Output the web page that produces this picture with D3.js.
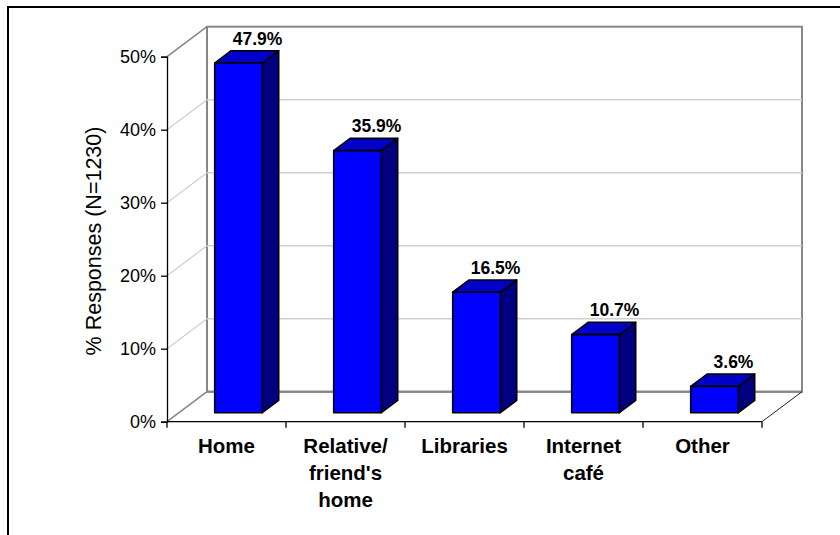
<!DOCTYPE html>
<html><head><meta charset="utf-8">
<script src="https://cdn.jsdelivr.net/npm/d3@7"></script>
<style>body{margin:0;background:#fff;}svg{display:block;}</style>
</head><body>
<svg id="c" width="840" height="535"></svg>
<script>
const categories = ["Home", "Relative/\nfriend's\nhome", "Libraries", "Internet\ncafé", "Other"];
const values = [47.9, 35.9, 16.5, 10.7, 3.6];
const valueLabels = ["47.9%", "35.9%", "16.5%", "10.7%", "3.6%"];
const yTicks = [0, 10, 20, 30, 40, 50];
const yTitle = "% Responses (N=1230)";

const svg = d3.select("#c");
const font = "'Liberation Sans', Arial, sans-serif";
const DX = 40, DY = -30;         // depth of the 3D box
const fFront = 0.3, fBack = 0.71; // bar depth fraction

const x = d3.scaleBand().domain(d3.range(categories.length)).range([167, 762]).paddingInner(0).paddingOuter(0);
const y = d3.scaleLinear().domain([0, 50]).range([421.7, 56.7]);
const x0 = 167, x1 = 762, y0 = y(0), yTop = y(50);

// outer frame
svg.append("rect").attr("x", 8).attr("y", 7).attr("width", 900).attr("height", 600)
  .attr("fill", "none").attr("stroke", "#000").attr("stroke-width", 2);

// back wall
svg.append("rect").attr("x", x0 + DX).attr("y", yTop + DY).attr("width", x1 - x0).attr("height", y0 - yTop)
  .attr("fill", "#fff").attr("stroke", "#868686").attr("stroke-width", 2);

// gridlines on back wall and side wall
yTicks.filter(t => t > 0 && t < 50).forEach(t => {
  svg.append("line").attr("x1", x0 + DX).attr("x2", x1 + DX).attr("y1", y(t) + DY).attr("y2", y(t) + DY)
    .attr("stroke", "#cfcfcf").attr("stroke-width", 1.5);
  svg.append("line").attr("x1", x0).attr("x2", x0 + DX).attr("y1", y(t)).attr("y2", y(t) + DY)
    .attr("stroke", "#cfcfcf").attr("stroke-width", 1.2);
});
// side wall top edge and floor edges
svg.append("line").attr("x1", x0).attr("x2", x0 + DX).attr("y1", yTop).attr("y2", yTop + DY)
  .attr("stroke", "#868686").attr("stroke-width", 1.5);
svg.append("line").attr("x1", x0).attr("x2", x0 + DX).attr("y1", y0).attr("y2", y0 + DY)
  .attr("stroke", "#868686").attr("stroke-width", 1.5);
svg.append("line").attr("x1", x0 + DX).attr("x2", x1 + DX).attr("y1", y0 + DY).attr("y2", y0 + DY)
  .attr("stroke", "#868686").attr("stroke-width", 2);
svg.append("line").attr("x1", x1).attr("x2", x1 + DX).attr("y1", y0).attr("y2", y0 + DY)
  .attr("stroke", "#222").attr("stroke-width", 1);

// bars
const bw = x.bandwidth() * 0.4;
const bars = svg.append("g");
values.forEach((v, i) => {
  const cx = x(i) + x.bandwidth() / 2;
  const fx = cx - bw / 2 + DX * fFront, fy = DY * fFront;
  const ddx = DX * (fBack - fFront), ddy = DY * (fBack - fFront);
  const L = fx, R = fx + bw, B = y(0) + fy, T = y(v) + fy;
  const st = {stroke: "#000", "stroke-width": 1.6, "stroke-linejoin": "round"};
  const poly = (pts, fill) => {
    const p = bars.append("polygon").attr("points", pts.map(d => d.join(",")).join(" ")).attr("fill", fill);
    Object.entries(st).forEach(([k, val]) => p.attr(k, val));
  };
  poly([[R, T], [R + ddx, T + ddy], [R + ddx, B + ddy], [R, B]], "#000080");
  poly([[L, T], [L + ddx, T + ddy], [R + ddx, T + ddy], [R, T]], "#0000C8");
  poly([[L, T], [R, T], [R, B], [L, B]], "#0000FF");
  bars.append("text").attr("x", (L + R) / 2 + 19).attr("y", T + ddy - 6)
    .attr("text-anchor", "middle").attr("font-family", font).attr("font-weight", "bold")
    .attr("font-size", 17.5).attr("fill", "#000").text(valueLabels[i]);
});

// y axis
const yAxis = svg.append("g").attr("transform", `translate(${x0},0)`)
  .call(d3.axisLeft(y).tickValues(yTicks).tickSize(6).tickPadding(5).tickFormat(d => d + "%"));
yAxis.select(".domain").attr("stroke", "#000").attr("stroke-width", 1.3);
yAxis.selectAll(".tick line").attr("stroke", "#000").attr("stroke-width", 1.3);
yAxis.selectAll(".tick text").attr("font-family", font).attr("font-size", 18).attr("fill", "#000");

// x axis
const xAxisG = svg.append("g").attr("transform", `translate(0,${y0})`);
xAxisG.append("line").attr("x1", x0).attr("x2", x1).attr("y1", 0).attr("y2", 0)
  .attr("stroke", "#000").attr("stroke-width", 1.3);
d3.range(categories.length + 1).forEach(i => {
  const xx = i < categories.length ? x(i) : x1;
  xAxisG.append("line").attr("x1", xx).attr("x2", xx).attr("y1", 0).attr("y2", 6)
    .attr("stroke", "#000").attr("stroke-width", 1.3);
});
categories.forEach((c, i) => {
  const t = xAxisG.append("text").attr("x", x(i) + x.bandwidth() / 2).attr("y", 31)
    .attr("text-anchor", "middle").attr("font-family", font).attr("font-weight", "bold")
    .attr("font-size", 20.5).attr("fill", "#000");
  c.split("\n").forEach((line, k) => {
    t.append("tspan").attr("x", x(i) + x.bandwidth() / 2).attr("dy", k === 0 ? 0 : 27).text(line);
  });
});

// y title
svg.append("text").attr("transform", "translate(101,241) rotate(-90)")
  .attr("text-anchor", "middle").attr("font-family", font).attr("font-size", 21.5)
  .attr("fill", "#000").text(yTitle);
</script>
</body></html>
